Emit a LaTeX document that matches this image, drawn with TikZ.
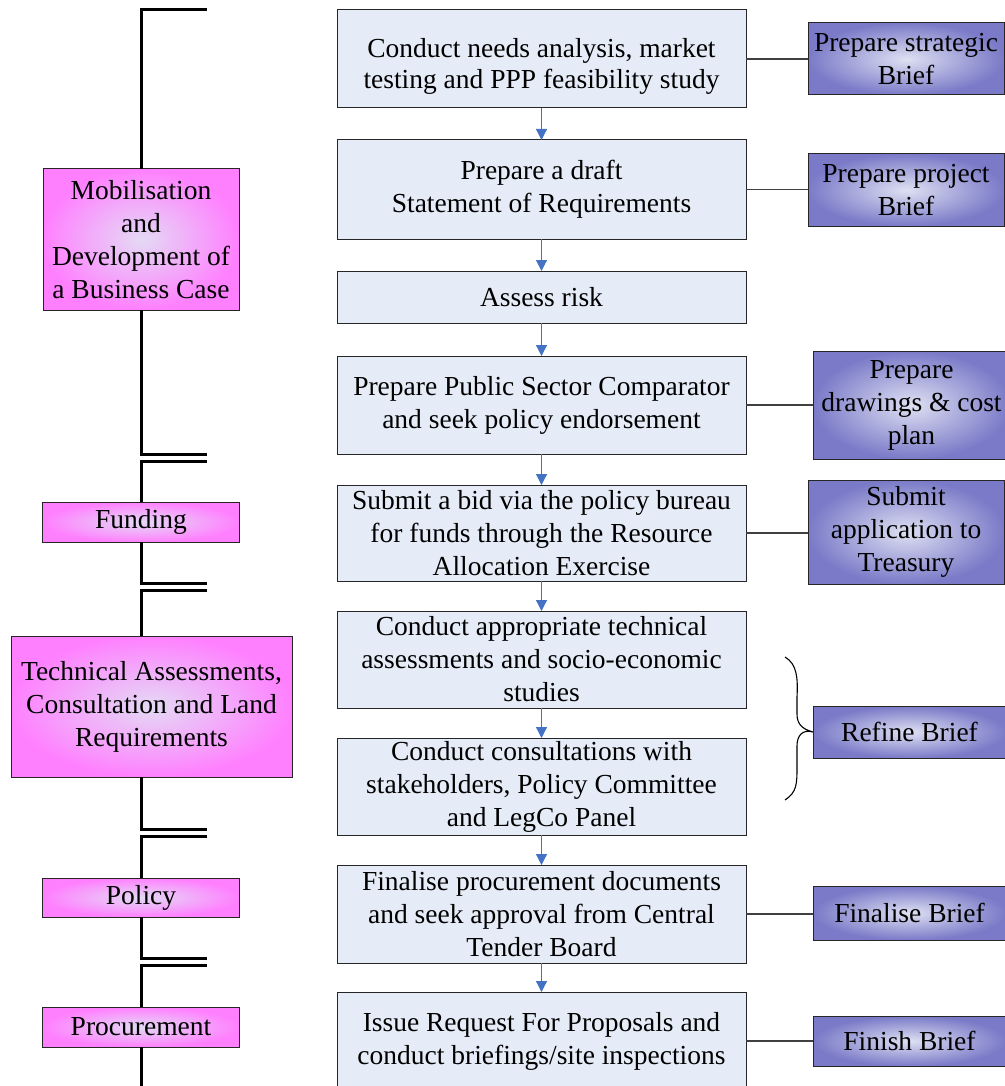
\documentclass[tikz,border=0pt]{standalone}
\usepackage{fontspec}
\setmainfont{Liberation Serif}
\usetikzlibrary{arrows.meta}

\definecolor{stepfill}{RGB}{230,236,247}
\definecolor{flowblue}{RGB}{68,114,196}
\definecolor{pinkout}{RGB}{255,128,255}
\definecolor{pinkin}{RGB}{228,218,244}
\definecolor{violetout}{RGB}{122,122,200}
\definecolor{violetin}{RGB}{222,224,242}

\tikzset{
  txt/.style={font=\fontsize{27.5}{33}\selectfont, align=center,
              inner sep=0pt, outer sep=0pt},
  stepbox/.style={txt, draw=black!85, line width=1pt, fill=stepfill,
                  minimum width=409pt},
  phasebox/.style={txt, draw=black!85, line width=1pt,
                   inner color=pinkin, outer color=pinkout},
  briefbox/.style={txt, draw=black!85, line width=1pt,
                   inner color=violetin, outer color=violetout},
  flow/.style={flowblue, line width=1.2pt,
               -{Triangle[width=11pt,length=11pt]}},
  link/.style={black!75, line width=1.2pt},
  bracket/.style={black, line width=3pt, line join=miter},
}

\begin{document}
\begin{tikzpicture}[x=1pt,y=-1pt]
\useasboundingbox (0,0) rectangle (1004,1086);

% main process column
\node[stepbox, minimum height=98pt, font=\fontsize{27.5}{31}\selectfont] (C1) at (541.5,59)
  {\rule{0pt}{33pt}Conduct needs analysis, market\\testing and PPP feasibility study};
\node[stepbox, minimum height=99pt] (C2) at (541.5,189.5)
  {Prepare a draft\\Statement of Requirements};
\node[stepbox, minimum height=52pt] (C3) at (541.5,297)
  {Assess risk};
\node[stepbox, minimum height=98pt] (C4) at (541.5,405)
  {Prepare Public Sector Comparator\\and seek policy endorsement};
\node[stepbox, minimum height=96pt] (C5) at (541.5,533)
  {Submit a bid via the policy bureau\\for funds through the Resource\\Allocation Exercise};
\node[stepbox, minimum height=97pt] (C6) at (541.5,659.5)
  {Conduct appropriate technical\\assessments and socio-economic\\studies};
\node[stepbox, minimum height=97pt] (C7) at (541.5,786.5)
  {Conduct consultations with\\stakeholders, Policy Committee\\and LegCo Panel};
\node[stepbox, minimum height=98pt] (C8) at (541.5,914)
  {Finalise procurement documents\\and seek approval from Central\\Tender Board};
\node[stepbox, minimum height=98pt] (C9) at (541.5,1041)
  {Issue Request For Proposals and\\conduct briefings/site inspections};

\foreach \a/\b in {C1/C2,C2/C3,C3/C4,C4/C5,C5/C6,C6/C7,C7/C8,C8/C9}
  \draw[flow] (\a) -- (\b);

% brief column
\node[briefbox, minimum width=196pt, minimum height=72pt] (R1) at (906,59)
  {Prepare strategic\\Brief};
\node[briefbox, minimum width=196pt, minimum height=72pt] (R2) at (906,190)
  {Prepare project\\Brief};
\node[briefbox, minimum width=197pt, minimum height=108pt] (R3) at (911.5,405)
  {Prepare\\drawings \& cost\\plan};
\node[briefbox, minimum width=196pt, minimum height=104pt] (R4) at (906,532)
  {Submit\\application to\\Treasury};
\node[briefbox, minimum width=193pt, minimum height=52pt] (R5) at (909.5,732)
  {Refine Brief};
\node[briefbox, minimum width=193pt, minimum height=54pt] (R6) at (909.5,913)
  {Finalise Brief};
\node[briefbox, minimum width=193pt, minimum height=50pt] (R7) at (909.5,1041)
  {Finish Brief};

\draw[link] (C1.east) -- (C1.east -| R1.west);
\draw[link] (C2.east) -- (C2.east -| R2.west);
\draw[link] (C4.east) -- (C4.east -| R3.west);
\draw[link] (C5.east) -- (C5.east -| R4.west);
\draw[link] (C8.east) -- (C8.east -| R6.west);
\draw[link] (C9.east) -- (C9.east -| R7.west);

% brace gathering the two consultation steps
\coordinate (bt) at (785,657);
\coordinate (bb) at (785,800);
\draw[black, line width=1.1pt] (bt)
  .. controls (797,664) and (798,678) .. (797,697) -- (797,714)
  .. controls (797,724) and (802,729) .. (R5.west)
  .. controls (802,729) and (797,736) .. (797,746) -- (797,766)
  .. controls (797,784) and (797,792) .. (bb);

% phase column
\node[phasebox, minimum width=196pt, minimum height=141pt] (L1) at (141,239.5)
  {Mobilisation\\and\\Development of\\a Business Case};
\node[phasebox, minimum width=197pt, minimum height=40pt] (L2) at (141,522)
  {\raisebox{-2pt}{Funding}};
\node[phasebox, minimum width=281pt, minimum height=141pt] (L3) at (151.5,706.5)
  {Technical Assessments,\\Consultation and Land\\Requirements};
\node[phasebox, minimum width=197pt, minimum height=39pt] (L4) at (141,897.5)
  {Policy};
\node[phasebox, minimum width=197pt, minimum height=40pt] (L5) at (141,1027)
  {Procurement};

% phase brackets
\draw[bracket] (207,10) -- (141,10) -- (L1.north);
\draw[bracket] (L1.south) -- (141,454.5) -- (207,454.5);
\draw[bracket] (207,461) -- (141,461) -- (L2.north);
\draw[bracket] (L2.south) -- (141,583) -- (207,583);
\draw[bracket] (207,590) -- (141,590) -- (L1.north |- L3.north);
\draw[bracket] (L1.south |- L3.south) -- (141,829) -- (207,829);
\draw[bracket] (207,836) -- (141,836) -- (L4.north);
\draw[bracket] (L4.south) -- (141,958) -- (207,958);
\draw[bracket] (207,965) -- (141,965) -- (L5.north);
\draw[bracket] (L5.south) -- (141,1092);
\end{tikzpicture}
\end{document}
